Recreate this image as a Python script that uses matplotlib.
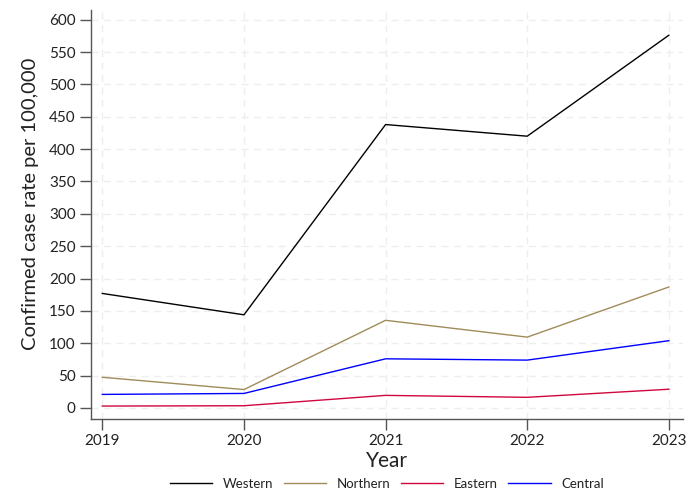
import matplotlib
matplotlib.use("Agg")
import matplotlib.pyplot as plt

years = [2019, 2020, 2021, 2022, 2023]
western = [177, 144, 438, 420, 576]
northern = [47.5, 28.5, 135.5, 109.5, 187]
eastern = [3, 3.5, 19.5, 16.5, 29]
central = [21, 22.5, 76, 74, 104]

series = [("Western", western, "#000000"),
          ("Northern", northern, "#a08c5a"),
          ("Eastern", eastern, "#d0073d"),
          ("Central", central, "#0000ff")]

plt.rcParams['font.family'] = ['Lato', 'DejaVu Sans']

fig = plt.figure(figsize=(6.91, 5.0), dpi=100)
ax = fig.add_axes([91/691, 81/500, (683-91)/691, (490-81)/500])

for name, vals, col in series:
    ax.plot(years, vals, color=col, lw=1.0, label=name)

ax.set_xlim(2018.92, 2023.1)
ax.set_ylim(-17, 615)
ax.set_xticks(years)
ax.set_yticks(range(0, 601, 50))
ax.grid(True, color="#eeeeee", linestyle=(0, (5, 4)), lw=1.0)
ax.set_axisbelow(True)
for s in ["top", "right"]:
    ax.spines[s].set_visible(False)
for s in ["left", "bottom"]:
    ax.spines[s].set_color("#555555")
    ax.spines[s].set_linewidth(1.0)
ax.tick_params(axis="both", length=8, width=1, color="#555555",
               labelsize=11, labelcolor="#222222", pad=3)
ax.set_xlabel("Year", fontsize=15, color="#222222", labelpad=2)
ax.set_ylabel("Confirmed case rate per 100,000", fontsize=14.5, color="#222222", labelpad=8)
ax.yaxis.set_label_coords(-0.088, 0.526)

leg = fig.legend(loc="center", bbox_to_anchor=(387/691, 1 - 484/500), ncol=4,
                 frameon=False, fontsize=9.5, handlelength=3.2, columnspacing=0.8,
                 handletextpad=0.8, labelcolor="#222222")

fig.savefig("out.png", dpi=100)
